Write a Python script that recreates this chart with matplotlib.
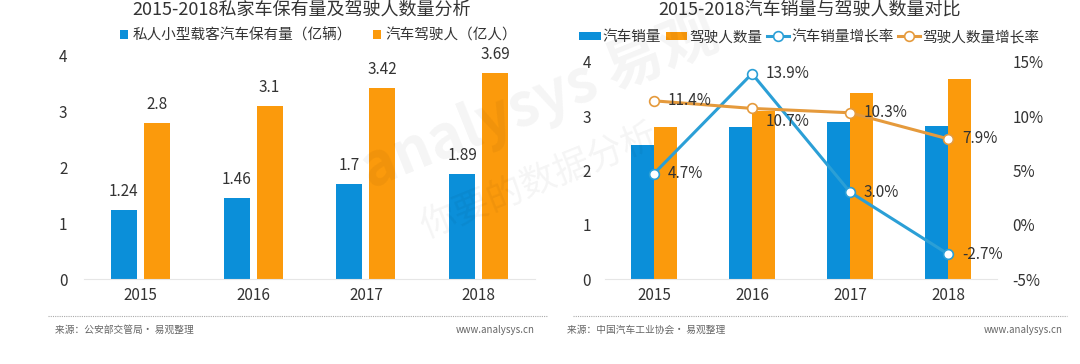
import matplotlib.pyplot as plt
import numpy as np

plt.rcParams['font.family'] = ['Noto Sans CJK SC', 'DejaVu Sans']

# 左图数据
years = ['2015', '2016', '2017', '2018']
private_cars = [1.24, 1.46, 1.7, 1.89]      # 私人小型载客汽车保有量（亿辆）
drivers = [2.8, 3.1, 3.42, 3.69]            # 汽车驾驶人（亿人）

# 右图数据
car_sales = [2.46, 2.80, 2.89, 2.81]        # 汽车销量（千万辆）
sales_growth = [4.7, 13.9, 3.0, -2.7]       # 汽车销量增长率 %
driver_growth = [11.4, 10.7, 10.3, 7.9]     # 驾驶人数量增长率 %

BLUE = '#0b8fd9'
ORANGE = '#fb9a0c'
LINE_BLUE = '#2b9fd6'
LINE_ORANGE = '#e59a3c'
TXT = '#333333'

fig = plt.figure(figsize=(10.8, 3.64), dpi=100)
W, H = 1080, 364


def box(x0, y0, x1, y1):
    return [x0 / W, 1 - y1 / H, (x1 - x0) / W, (y1 - y0) / H]


def style(ax):
    for s in ['top', 'right', 'left']:
        ax.spines[s].set_visible(False)
    ax.spines['bottom'].set_color('#e6e6e6')
    ax.tick_params(length=0, labelsize=11, colors=TXT)
    ax.tick_params(axis='x', pad=6)


x = np.arange(len(years))

# ---------- 左图 ----------
ax1 = fig.add_axes(box(84, 56, 535, 279))
w = 0.23
ax1.bar(x - 0.146, private_cars, w, color=BLUE, label='私人小型载客汽车保有量（亿辆）')
ax1.bar(x + 0.146, drivers, w, color=ORANGE, label='汽车驾驶人（亿人）')
for i in range(len(years)):
    ax1.text(x[i] - 0.146, private_cars[i] + 0.18, f'{private_cars[i]:g}', ha='center', va='bottom',
             fontsize=11, color=TXT)
    ax1.text(x[i] + 0.146, drivers[i] + 0.18, f'{drivers[i]:g}', ha='center', va='bottom',
             fontsize=11, color=TXT)
ax1.set_xlim(-0.5, 3.5)
ax1.set_ylim(0, 4)
ax1.set_yticks([0, 1, 2, 3, 4])
ax1.set_xticks(x)
ax1.set_xticklabels(years)
style(ax1)
ax1.tick_params(axis='y', pad=12)
ax1.legend(loc='lower center', bbox_to_anchor=(0.52, 1.0), ncol=2, frameon=False, fontsize=10.5,
           handlelength=0.6, handleheight=0.6, handletextpad=0.3, columnspacing=1.4,
           labelcolor=TXT)

# ---------- 右图 ----------
ax2 = fig.add_axes(box(605, 61.7, 997, 279))
w2 = 0.235
ax2.bar(x - w2 / 2, car_sales, w2, color=BLUE, label='汽车销量')
ax2.bar(x + w2 / 2, drivers, w2, color=ORANGE, label='驾驶人数量')
ax2.set_xlim(-0.5, 3.5)
ax2.set_ylim(0, 4)
ax2.set_yticks([0, 1, 2, 3, 4])
ax2.set_xticks(x)
ax2.set_xticklabels(years)
style(ax2)
ax2.tick_params(axis='y', pad=10)

ax3 = ax2.twinx()
l1, = ax3.plot(x, sales_growth, color=LINE_BLUE, lw=2.2, marker='o', ms=7,
               mfc='white', mec=LINE_BLUE, mew=1.2, label='汽车销量增长率')
l2, = ax3.plot(x, driver_growth, color=LINE_ORANGE, lw=2.2, marker='o', ms=7,
               mfc='white', mec=LINE_ORANGE, mew=1.2, label='驾驶人数量增长率')
ax3.set_ylim(-5, 15)
ax3.set_yticks([-5, 0, 5, 10, 15])
ax3.set_yticklabels(['-5%', '0%', '5%', '10%', '15%'])
for s in ['top', 'right', 'left', 'bottom']:
    ax3.spines[s].set_visible(False)
ax3.tick_params(length=0, labelsize=11, colors=TXT, pad=11)

driver_dy = [0, -1.2, 0, 0]
for i in range(len(years)):
    ax3.annotate(f'{sales_growth[i]:.1f}%', (x[i], sales_growth[i]), xytext=(10, 0),
                 textcoords='offset points', va='center', ha='left', fontsize=11, color=TXT)
    ax3.annotate(f'{driver_growth[i]:.1f}%', (x[i], driver_growth[i] + driver_dy[i]),
                 xytext=(10, 0), textcoords='offset points', va='center', ha='left',
                 fontsize=11, color=TXT)

h1, lb1 = ax2.get_legend_handles_labels()
ax2.legend(h1 + [l1, l2], lb1 + ['汽车销量增长率', '驾驶人数量增长率'], loc='lower center',
           bbox_to_anchor=(0.52, 1.02), ncol=4, frameon=False, fontsize=10.5,
           handlelength=1.5, handleheight=0.55, handletextpad=0.15, columnspacing=0.3,
           labelcolor=TXT)

# ---------- 标题 ----------
fig.text(302 / W, 1 - 1 / H, '2015-2018私家车保有量及驾驶人数量分析', ha='center', va='top',
         fontsize=13, color=TXT)
fig.text(810 / W, 1 - 1 / H, '2015-2018汽车销量与驾驶人数量对比', ha='center', va='top',
         fontsize=13, color=TXT)

# ---------- 水印 ----------
fig.text(0.50, 0.72, 'analysys 易观', ha='center', va='center', fontsize=42, rotation=22,
         color='#000000', alpha=0.045, fontweight='bold')
fig.text(0.50, 0.50, '你要的数据分析', ha='center', va='center', fontsize=26, rotation=22,
         color='#000000', alpha=0.045)

# ---------- 底部 ----------
fig.add_artist(plt.Line2D([48 / W, 548 / W], [1 - 316 / H] * 2, color='#aaaaaa', lw=0.8, ls=(0, (1, 1))))
fig.add_artist(plt.Line2D([573 / W, 1067 / W], [1 - 316 / H] * 2, color='#aaaaaa', lw=0.8, ls=(0, (1, 1))))
fig.text(55 / W, 1 - 330 / H, '来源：公安部交管局· 易观整理', fontsize=7, color='#666666', va='center')
fig.text(535 / W, 1 - 330 / H, 'www.analysys.cn', fontsize=7, color='#666666', va='center', ha='right')
fig.text(567 / W, 1 - 330 / H, '来源：中国汽车工业协会· 易观整理', fontsize=7, color='#666666', va='center')
fig.text(1063 / W, 1 - 330 / H, 'www.analysys.cn', fontsize=7, color='#666666', va='center', ha='right')

fig.savefig('out.png', dpi=100, facecolor='white')
